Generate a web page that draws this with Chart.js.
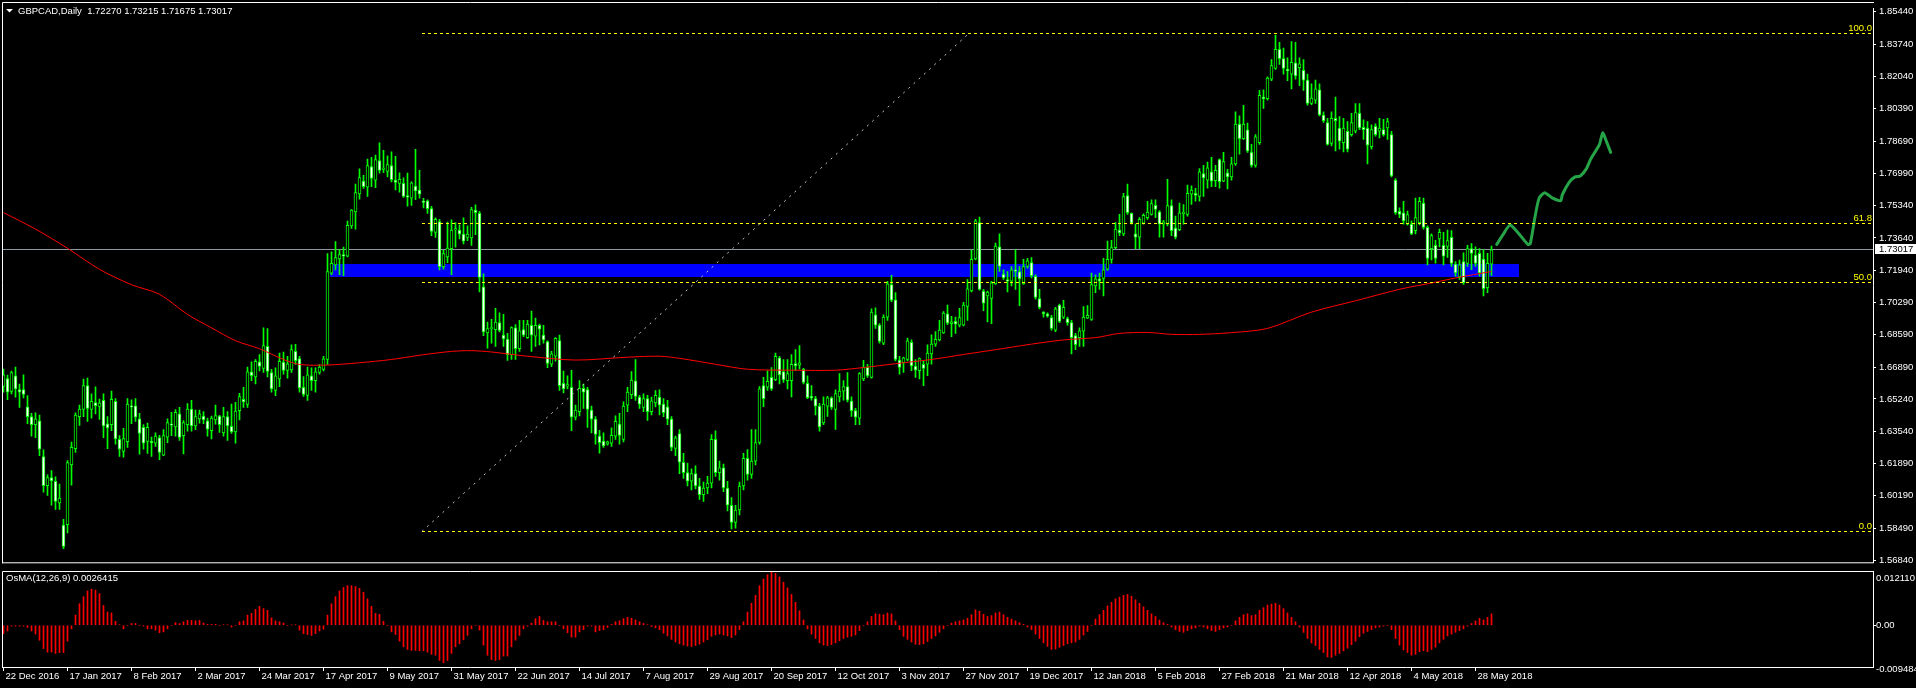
<!DOCTYPE html>
<html>
<head>
<meta charset="utf-8">
<title>GBPCAD,Daily</title>
<script src="https://cdn.jsdelivr.net/npm/chart.js@4.4.1/dist/chart.umd.min.js"></script>
<style>
  html, body { margin: 0; padding: 0; background: #000; overflow: hidden; }
  #wrap { position: relative; width: 1916px; height: 688px; }
  canvas { position: absolute; left: 0; }
  #main { top: 0; }
  #osma { top: 571px; }
</style>
</head>
<body>
<div id="wrap">
  <canvas id="main" width="1916" height="571"></canvas>
  <canvas id="osma" width="1916" height="117"></canvas>
</div>
<script>
// ---- data ----
const symbolTitle = 'GBPCAD,Daily  1.72270 1.73215 1.71675 1.73017';
const osmaTitle = 'OsMA(12,26,9) 0.0026415';
const lastPrice = 1.73017;

// daily candles, 22 Dec 2016 .. 1 Jun 2018
const openP = [
  1.6590,1.6631,1.6563,1.6645,1.6573,1.6573,1.6483,1.6432,1.6390,1.6410,
  1.6223,1.6072,1.6114,1.6095,1.5982,1.5866,1.5868,1.6180,1.6265,1.6432,
  1.6469,1.6594,1.6469,1.6505,1.6485,1.6517,1.6395,1.6390,1.6512,1.6313,
  1.6250,1.6301,1.6488,1.6488,1.6420,1.6376,1.6303,1.6303,1.6293,1.6323,
  1.6231,1.6325,1.6393,1.6378,1.6446,1.6333,1.6390,1.6471,1.6384,1.6420,
  1.6435,1.6410,1.6359,1.6415,1.6435,1.6347,1.6432,1.6381,1.6352,1.6463,
  1.6522,1.6495,1.6665,1.6639,1.6718,1.6684,1.6798,1.6662,1.6568,1.6628,
  1.6716,1.6673,1.6675,1.6772,1.6735,1.6585,1.6543,1.6645,1.6619,1.6662,
  1.6678,1.6730,1.7180,1.7223,1.7254,1.7277,1.7269,1.7427,1.7500,1.7594,
  1.7660,1.7628,1.7736,1.7665,1.7767,1.7721,1.7711,1.7741,1.7665,1.7648,
  1.7648,1.7585,1.7571,1.7634,1.7614,1.7555,1.7558,1.7517,1.7393,1.7449,
  1.7214,1.7265,1.7308,1.7405,1.7405,1.7384,1.7367,1.7364,1.7509,1.7492,
  1.7109,1.6869,1.6891,1.6886,1.6922,1.6857,1.6837,1.6755,1.6895,1.6786,
  1.6886,1.6844,1.6908,1.6852,1.6908,1.6857,1.6823,1.6705,1.6747,1.6828,
  1.6606,1.6591,1.6585,1.6429,1.6458,1.6580,1.6573,1.6466,1.6419,1.6330,
  1.6305,1.6288,1.6293,1.6330,1.6393,1.6313,1.6492,1.6546,1.6619,1.6534,
  1.6480,1.6526,1.6458,1.6504,1.6534,1.6497,1.6483,1.6419,1.6266,1.6344,
  1.6194,1.6140,1.6095,1.6135,1.6070,1.6025,1.6060,1.6085,1.6313,1.6140,
  1.6165,1.6060,1.5970,1.5880,1.5945,1.6070,1.6215,1.6130,1.6200,1.6297,
  1.6594,1.6586,1.6637,1.6625,1.6739,1.6667,1.6620,1.6620,1.6708,1.6700,
  1.6679,1.6606,1.6538,1.6526,1.6487,1.6399,1.6487,1.6530,1.6470,1.6535,
  1.6565,1.6589,1.6513,1.6463,1.6424,1.6628,1.6691,1.6637,1.6963,1.6909,
  1.6815,1.6951,1.7121,1.7041,1.6727,1.6713,1.6730,1.6820,1.6696,1.6671,
  1.6705,1.6705,1.6759,1.6810,1.6832,1.6869,1.6968,1.6917,1.6929,1.6909,
  1.6909,1.7007,1.7087,1.7254,1.7444,1.7087,1.7062,1.7048,1.7124,1.7317,
  1.7176,1.7147,1.7138,1.7198,1.7189,1.7124,1.7215,1.7235,1.7164,1.7048,
  1.6977,1.6968,1.6948,1.6883,1.7014,1.6951,1.6943,1.6922,1.6854,1.6844,
  1.6878,1.6946,1.6939,1.7113,1.7150,1.7153,1.7201,1.7252,1.7313,1.7405,
  1.7385,1.7585,1.7492,1.7385,1.7368,1.7441,1.7470,1.7487,1.7534,1.7500,
  1.7436,1.7436,1.7533,1.7415,1.7407,1.7490,1.7487,1.7592,1.7597,1.7580,
  1.7699,1.7665,1.7708,1.7662,1.7772,1.7660,1.7704,1.7682,1.7750,1.7957,
  1.7881,1.7928,1.7810,1.7742,1.7861,1.8099,1.8090,1.8192,1.8248,1.8348,
  1.8299,1.8243,1.8218,1.8277,1.8252,1.8238,1.8187,1.8065,1.8082,1.8136,
  1.8005,1.7966,1.7857,1.7988,1.7937,1.7861,1.7920,1.7903,1.7920,1.8014,
  1.7941,1.7937,1.7840,1.7946,1.7920,1.7929,1.7937,1.7903,1.7665,1.7503,
  1.7495,1.7436,1.7436,1.7402,1.7444,1.7546,1.7419,1.7308,1.7325,1.7359,
  1.7325,1.7320,1.7367,1.7228,1.7160,1.7240,1.7231,1.7308,1.7274,1.7283,
  1.7253,1.7104,1.7227
];
const highP = [
  1.6680,1.6648,1.6670,1.6690,1.6602,1.6650,1.6542,1.6449,1.6452,1.6440,
  1.6259,1.6129,1.6151,1.6118,1.6080,1.5897,1.6203,1.6299,1.6452,1.6492,
  1.6628,1.6633,1.6551,1.6588,1.6524,1.6551,1.6432,1.6565,1.6526,1.6333,
  1.6371,1.6526,1.6520,1.6526,1.6449,1.6390,1.6398,1.6325,1.6347,1.6335,
  1.6364,1.6420,1.6454,1.6469,1.6480,1.6412,1.6500,1.6517,1.6466,1.6466,
  1.6458,1.6424,1.6435,1.6492,1.6439,1.6480,1.6458,1.6497,1.6507,1.6554,
  1.6585,1.6690,1.6718,1.6730,1.6755,1.6895,1.6891,1.6679,1.6687,1.6764,
  1.6769,1.6747,1.6806,1.6809,1.6747,1.6641,1.6690,1.6687,1.6687,1.6704,
  1.6747,1.7282,1.7291,1.7345,1.7305,1.7316,1.7452,1.7512,1.7645,1.7724,
  1.7690,1.7775,1.7784,1.7796,1.7860,1.7821,1.7792,1.7813,1.7789,1.7704,
  1.7677,1.7702,1.7656,1.7826,1.7716,1.7571,1.7563,1.7529,1.7469,1.7461,
  1.7299,1.7447,1.7458,1.7444,1.7432,1.7469,1.7427,1.7524,1.7537,1.7503,
  1.7177,1.6925,1.6939,1.6997,1.6973,1.6965,1.6866,1.6900,1.6912,1.6934,
  1.6934,1.6934,1.6982,1.6946,1.6914,1.6908,1.6827,1.6772,1.6844,1.6857,
  1.6670,1.6645,1.6674,1.6492,1.6620,1.6602,1.6585,1.6487,1.6432,1.6361,
  1.6347,1.6305,1.6373,1.6436,1.6449,1.6509,1.6585,1.6667,1.6730,1.6543,
  1.6551,1.6543,1.6534,1.6568,1.6572,1.6526,1.6517,1.6432,1.6330,1.6364,
  1.6240,1.6190,1.6160,1.6175,1.6110,1.6090,1.6120,1.6338,1.6358,1.6200,
  1.6185,1.6095,1.6010,1.5970,1.6090,1.6240,1.6260,1.6364,1.6364,1.6589,
  1.6637,1.6671,1.6688,1.6764,1.6747,1.6730,1.6730,1.6756,1.6781,1.6803,
  1.6684,1.6645,1.6594,1.6538,1.6501,1.6535,1.6538,1.6535,1.6572,1.6657,
  1.6620,1.6662,1.6535,1.6475,1.6662,1.6725,1.6705,1.6994,1.6999,1.6917,
  1.6963,1.7138,1.7169,1.7079,1.6747,1.6742,1.6841,1.6832,1.6730,1.6739,
  1.6722,1.6807,1.6858,1.6875,1.6934,1.6980,1.7014,1.6955,1.6951,1.6997,
  1.7028,1.7147,1.7300,1.7461,1.7473,1.7096,1.7087,1.7138,1.7337,1.7385,
  1.7198,1.7189,1.7215,1.7303,1.7215,1.7252,1.7257,1.7262,1.7172,1.7096,
  1.6980,1.6973,1.6960,1.7002,1.7019,1.7039,1.6951,1.6934,1.6866,1.6895,
  1.7006,1.7011,1.7181,1.7172,1.7181,1.7257,1.7347,1.7351,1.7444,1.7487,
  1.7597,1.7645,1.7495,1.7436,1.7470,1.7490,1.7555,1.7563,1.7563,1.7507,
  1.7456,1.7670,1.7563,1.7478,1.7546,1.7538,1.7640,1.7635,1.7623,1.7725,
  1.7742,1.7759,1.7784,1.7742,1.7776,1.7810,1.7721,1.7784,1.8022,1.8000,
  1.8056,1.7963,1.7852,1.7903,1.8133,1.8136,1.8204,1.8294,1.8422,1.8384,
  1.8354,1.8303,1.8388,1.8384,1.8303,1.8294,1.8218,1.8167,1.8187,1.8167,
  1.8022,1.7988,1.8022,1.8099,1.7997,1.7988,1.7971,1.8014,1.8065,1.8065,
  1.7980,1.7971,1.7954,1.7959,1.7988,1.7983,1.7988,1.7920,1.7674,1.7521,
  1.7555,1.7504,1.7453,1.7572,1.7575,1.7572,1.7427,1.7385,1.7351,1.7410,
  1.7393,1.7405,1.7402,1.7240,1.7249,1.7286,1.7325,1.7334,1.7317,1.7308,
  1.7303,1.7283,1.7322
];
const lowP = [
  1.6560,1.6520,1.6551,1.6534,1.6480,1.6529,1.6395,1.6330,1.6322,1.6228,
  1.6038,1.6021,1.5970,1.5948,1.5948,1.5743,1.5825,1.6075,1.6245,1.6386,
  1.6432,1.6407,1.6424,1.6446,1.6418,1.6322,1.6265,1.6359,1.6288,1.6225,
  1.6220,1.6271,1.6395,1.6407,1.6236,1.6262,1.6240,1.6225,1.6276,1.6208,
  1.6228,1.6296,1.6333,1.6330,1.6308,1.6238,1.6356,1.6356,1.6364,1.6398,
  1.6395,1.6330,1.6316,1.6393,1.6350,1.6330,1.6308,1.6344,1.6293,1.6415,
  1.6480,1.6480,1.6619,1.6602,1.6670,1.6663,1.6639,1.6560,1.6541,1.6588,
  1.6653,1.6633,1.6662,1.6704,1.6560,1.6537,1.6517,1.6568,1.6560,1.6653,
  1.6670,1.6704,1.7172,1.7197,1.7172,1.7167,1.7265,1.7413,1.7410,1.7566,
  1.7622,1.7580,1.7631,1.7626,1.7702,1.7704,1.7682,1.7656,1.7614,1.7602,
  1.7575,1.7529,1.7534,1.7563,1.7571,1.7520,1.7492,1.7376,1.7367,1.7197,
  1.7201,1.7235,1.7172,1.7316,1.7359,1.7333,1.7350,1.7325,1.7381,1.7082,
  1.6854,1.6789,1.6815,1.6798,1.6874,1.6798,1.6725,1.6730,1.6730,1.6772,
  1.6849,1.6840,1.6772,1.6798,1.6806,1.6815,1.6687,1.6693,1.6721,1.6568,
  1.6555,1.6577,1.6359,1.6415,1.6436,1.6475,1.6376,1.6347,1.6288,1.6242,
  1.6271,1.6283,1.6276,1.6313,1.6288,1.6300,1.6458,1.6526,1.6517,1.6475,
  1.6458,1.6412,1.6441,1.6483,1.6441,1.6432,1.6390,1.6254,1.6228,1.6135,
  1.6110,1.6070,1.6050,1.6055,1.6000,1.5990,1.6030,1.6060,1.6120,1.6100,
  1.6040,1.5940,1.5846,1.5850,1.5920,1.6050,1.6100,1.6110,1.6180,1.6288,
  1.6484,1.6569,1.6569,1.6620,1.6603,1.6611,1.6577,1.6535,1.6671,1.6679,
  1.6603,1.6526,1.6518,1.6441,1.6356,1.6390,1.6433,1.6470,1.6365,1.6509,
  1.6518,1.6509,1.6433,1.6390,1.6390,1.6620,1.6637,1.6633,1.6892,1.6815,
  1.6807,1.6934,1.7031,1.6722,1.6654,1.6662,1.6722,1.6671,1.6637,1.6628,
  1.6594,1.6645,1.6705,1.6798,1.6827,1.6866,1.6912,1.6849,1.6866,1.6900,
  1.6905,1.6934,1.7082,1.7249,1.7092,1.6985,1.6926,1.6917,1.7121,1.7189,
  1.7147,1.7082,1.7113,1.7096,1.7011,1.7121,1.7206,1.7155,1.7045,1.6994,
  1.6951,1.6951,1.6883,1.6875,1.6922,1.6943,1.6909,1.6759,1.6781,1.6798,
  1.6798,1.6943,1.6934,1.7079,1.7096,1.7062,1.7194,1.7232,1.7308,1.7376,
  1.7376,1.7487,1.7436,1.7308,1.7308,1.7436,1.7461,1.7482,1.7470,1.7368,
  1.7368,1.7427,1.7376,1.7359,1.7402,1.7436,1.7478,1.7538,1.7555,1.7555,
  1.7580,1.7623,1.7631,1.7631,1.7623,1.7657,1.7619,1.7665,1.7742,1.7801,
  1.7878,1.7810,1.7733,1.7733,1.7852,1.8039,1.8082,1.8184,1.8243,1.8269,
  1.8218,1.8184,1.8141,1.8192,1.8158,1.8133,1.8056,1.8059,1.8065,1.8000,
  1.7966,1.7847,1.7844,1.7818,1.7827,1.7813,1.7813,1.7895,1.7912,1.7929,
  1.7878,1.7750,1.7827,1.7895,1.7886,1.7895,1.7878,1.7682,1.7487,1.7470,
  1.7436,1.7431,1.7381,1.7385,1.7432,1.7410,1.7223,1.7249,1.7232,1.7317,
  1.7223,1.7262,1.7215,1.7164,1.7147,1.7121,1.7215,1.7198,1.7215,1.7164,
  1.7062,1.7079,1.7168
];
const closeP = [
  1.6650,1.6560,1.6662,1.6577,1.6560,1.6548,1.6432,1.6390,1.6420,1.6262,
  1.6072,1.6114,1.6097,1.5990,1.6007,1.5755,1.6192,1.6272,1.6440,1.6471,
  1.6594,1.6475,1.6512,1.6488,1.6502,1.6384,1.6373,1.6522,1.6316,1.6262,
  1.6318,1.6497,1.6483,1.6429,1.6344,1.6293,1.6376,1.6296,1.6330,1.6245,
  1.6333,1.6401,1.6388,1.6454,1.6323,1.6401,1.6471,1.6384,1.6432,1.6446,
  1.6415,1.6367,1.6424,1.6437,1.6390,1.6432,1.6384,1.6352,1.6461,1.6537,
  1.6509,1.6665,1.6645,1.6721,1.6694,1.6803,1.6668,1.6577,1.6645,1.6721,
  1.6673,1.6707,1.6781,1.6724,1.6582,1.6548,1.6650,1.6619,1.6665,1.6690,
  1.6733,1.7189,1.7231,1.7262,1.7277,1.7269,1.7430,1.7509,1.7600,1.7679,
  1.7631,1.7741,1.7674,1.7772,1.7716,1.7728,1.7747,1.7668,1.7653,1.7670,
  1.7580,1.7577,1.7651,1.7609,1.7592,1.7549,1.7517,1.7398,1.7461,1.7214,
  1.7282,1.7311,1.7405,1.7412,1.7384,1.7347,1.7384,1.7512,1.7495,1.7158,
  1.6874,1.6891,1.6895,1.6925,1.6881,1.6837,1.6755,1.6896,1.6786,1.6880,
  1.6857,1.6914,1.6857,1.6908,1.6888,1.6832,1.6710,1.6759,1.6840,1.6594,
  1.6577,1.6599,1.6429,1.6466,1.6580,1.6560,1.6470,1.6419,1.6339,1.6296,
  1.6279,1.6300,1.6334,1.6407,1.6334,1.6487,1.6560,1.6623,1.6538,1.6497,
  1.6526,1.6458,1.6514,1.6543,1.6492,1.6453,1.6419,1.6271,1.6322,1.6194,
  1.6140,1.6095,1.6135,1.6070,1.6025,1.6060,1.6085,1.6313,1.6140,1.6165,
  1.6060,1.5970,1.5880,1.5945,1.6070,1.6215,1.6130,1.6200,1.6297,1.6577,
  1.6526,1.6616,1.6577,1.6747,1.6650,1.6623,1.6657,1.6705,1.6696,1.6713,
  1.6611,1.6531,1.6530,1.6487,1.6378,1.6497,1.6530,1.6480,1.6552,1.6565,
  1.6589,1.6518,1.6463,1.6429,1.6657,1.6691,1.6645,1.6977,1.6909,1.6824,
  1.6951,1.7124,1.7039,1.6730,1.6688,1.6739,1.6827,1.6696,1.6674,1.6735,
  1.6684,1.6764,1.6810,1.6835,1.6883,1.6972,1.6920,1.6926,1.6914,1.6948,
  1.7014,1.7099,1.7252,1.7453,1.7096,1.7023,1.7082,1.7130,1.7322,1.7215,
  1.7155,1.7138,1.7198,1.7189,1.7150,1.7215,1.7245,1.7167,1.7053,1.7002,
  1.6968,1.6956,1.6892,1.6994,1.6929,1.7002,1.6922,1.6844,1.6807,1.6880,
  1.6951,1.6960,1.7121,1.7150,1.7138,1.7198,1.7252,1.7313,1.7410,1.7390,
  1.7580,1.7495,1.7441,1.7368,1.7461,1.7482,1.7499,1.7543,1.7512,1.7436,
  1.7448,1.7533,1.7402,1.7368,1.7495,1.7499,1.7597,1.7614,1.7585,1.7708,
  1.7677,1.7730,1.7660,1.7716,1.7657,1.7762,1.7682,1.7750,1.7957,1.7881,
  1.7957,1.7818,1.7742,1.7891,1.8107,1.8090,1.8197,1.8263,1.8348,1.8299,
  1.8248,1.8235,1.8280,1.8209,1.8272,1.8187,1.8065,1.8093,1.8141,1.8005,
  1.7976,1.7852,1.7988,1.7976,1.7869,1.7937,1.7827,1.7966,1.8017,1.7937,
  1.7929,1.7847,1.7929,1.7903,1.7937,1.7903,1.7971,1.7687,1.7495,1.7486,
  1.7453,1.7486,1.7385,1.7470,1.7555,1.7419,1.7257,1.7376,1.7257,1.7393,
  1.7269,1.7350,1.7231,1.7181,1.7223,1.7130,1.7308,1.7283,1.7231,1.7181,
  1.7099,1.7231,1.7302
];

// OsMA(12,26,9) histogram, one value per candle
const osma = [
  -0.0019,-0.0013,-0.0002,-0.0002,-0.0002,-0.0002,-0.0005,-0.0013,-0.0020,-0.0034,
  -0.0053,-0.0061,-0.0061,-0.0064,-0.0062,-0.0062,-0.0036,-0.0008,0.0023,0.0049,
  0.0065,0.0078,0.0082,0.0080,0.0072,0.0045,0.0030,0.0028,0.0009,0.0001,
  -0.0008,0.0000,0.0004,0.0004,0.0000,-0.0002,-0.0008,-0.0008,-0.0011,-0.0017,
  -0.0015,-0.0008,0.0000,0.0006,0.0004,0.0008,0.0011,0.0011,0.0010,0.0011,
  0.0005,0.0002,0.0002,0.0002,0.0000,0.0001,0.0001,-0.0004,0.0000,0.0008,
  0.0010,0.0023,0.0027,0.0036,0.0043,0.0038,0.0034,0.0017,0.0010,0.0008,
  0.0005,0.0000,0.0001,0.0001,-0.0011,-0.0019,-0.0021,-0.0023,-0.0019,-0.0013,
  -0.0009,0.0023,0.0049,0.0065,0.0078,0.0086,0.0090,0.0090,0.0088,0.0084,
  0.0075,0.0060,0.0043,0.0027,0.0025,0.0009,0.0000,-0.0015,-0.0021,-0.0036,
  -0.0049,-0.0055,-0.0057,-0.0057,-0.0058,-0.0058,-0.0061,-0.0066,-0.0068,-0.0080,
  -0.0085,-0.0080,-0.0064,-0.0049,-0.0042,-0.0033,-0.0023,-0.0008,0.0000,-0.0011,
  -0.0045,-0.0068,-0.0078,-0.0080,-0.0078,-0.0070,-0.0070,-0.0049,-0.0034,-0.0023,
  -0.0008,-0.0002,0.0005,0.0015,0.0020,0.0011,0.0008,0.0008,0.0008,0.0000,
  -0.0008,-0.0017,-0.0027,-0.0027,-0.0015,-0.0010,-0.0002,-0.0002,-0.0015,-0.0012,
  -0.0010,-0.0005,0.0002,0.0008,0.0010,0.0015,0.0018,0.0016,0.0012,0.0008,
  0.0004,0.0001,-0.0003,-0.0006,-0.0010,-0.0018,-0.0024,-0.0032,-0.0038,-0.0042,
  -0.0045,-0.0047,-0.0048,-0.0046,-0.0043,-0.0038,-0.0033,-0.0025,-0.0022,-0.0020,
  -0.0022,-0.0024,-0.0028,-0.0022,-0.0010,0.0008,0.0030,0.0050,0.0068,0.0090,
  0.0105,0.0115,0.0121,0.0118,0.0110,0.0098,0.0085,0.0070,0.0052,0.0033,
  0.0012,-0.0008,-0.0020,-0.0030,-0.0040,-0.0045,-0.0046,-0.0044,-0.0040,-0.0035,
  -0.0030,-0.0027,-0.0025,-0.0022,-0.0012,0.0000,0.0008,0.0020,0.0026,0.0025,
  0.0024,0.0028,0.0026,0.0010,-0.0010,-0.0025,-0.0032,-0.0038,-0.0043,-0.0044,
  -0.0042,-0.0037,-0.0030,-0.0024,-0.0016,-0.0008,0.0000,0.0005,0.0008,0.0010,
  0.0012,0.0016,0.0024,0.0035,0.0032,0.0025,0.0020,0.0022,0.0028,0.0030,
  0.0024,0.0018,0.0014,0.0010,0.0006,0.0002,-0.0004,-0.0010,-0.0020,-0.0030,
  -0.0040,-0.0048,-0.0055,-0.0054,-0.0050,-0.0046,-0.0042,-0.0040,-0.0038,-0.0032,
  -0.0022,-0.0014,0.0000,0.0014,0.0024,0.0034,0.0044,0.0052,0.0060,0.0064,
  0.0068,0.0070,0.0066,0.0058,0.0050,0.0042,0.0034,0.0026,0.0020,0.0012,
  0.0006,0.0002,-0.0004,-0.0010,-0.0014,-0.0016,-0.0012,-0.0008,-0.0006,-0.0002,
  -0.0004,-0.0008,-0.0012,-0.0014,-0.0010,-0.0006,-0.0004,0.0000,0.0010,0.0018,
  0.0024,0.0026,0.0022,0.0024,0.0034,0.0040,0.0046,0.0048,0.0050,0.0046,
  0.0038,0.0028,0.0018,0.0008,-0.0004,-0.0016,-0.0030,-0.0040,-0.0046,-0.0055,
  -0.0062,-0.0072,-0.0073,-0.0068,-0.0064,-0.0058,-0.0052,-0.0044,-0.0036,-0.0026,
  -0.0018,-0.0014,-0.0010,-0.0006,-0.0004,-0.0002,0.0000,-0.0010,-0.0030,-0.0045,
  -0.0056,-0.0062,-0.0068,-0.0066,-0.0060,-0.0058,-0.0060,-0.0055,-0.0050,-0.0040,
  -0.0032,-0.0024,-0.0020,-0.0016,-0.0012,-0.0008,-0.0002,0.0004,0.0010,0.0016,
  0.0012,0.0018,0.0026
];

// red moving average, read at a set of bar positions
const maBars = [0, 8, 16, 24, 32, 39, 46, 52, 58, 64, 70, 74, 81, 89, 97, 105, 112, 117, 122, 131,
  143, 156, 164, 169, 178, 186, 198, 208, 215, 223, 232, 240, 248, 257, 265, 273, 279, 286, 292, 299,
  307, 316, 327, 338, 349, 358, 363, 372];
const maValues = [1.7496, 1.7410, 1.7310, 1.7200, 1.7120, 1.7070, 1.6965, 1.6895, 1.6828, 1.6786,
  1.6730, 1.6704, 1.6701, 1.6713, 1.6730, 1.6755, 1.6772, 1.6776, 1.6769, 1.6747,
  1.6727, 1.6742, 1.6747, 1.6736, 1.6705, 1.6679, 1.6674, 1.6674, 1.6688, 1.6708,
  1.6730, 1.6756, 1.6781, 1.6810, 1.6832, 1.6844, 1.6866, 1.6871, 1.6861, 1.6861,
  1.6870, 1.6892, 1.6977, 1.7036, 1.7096, 1.7133, 1.7155, 1.7189];

// hand drawn green projection
const fcBars = [373.3, 375.0, 376.7, 381.1, 381.7, 383.0, 383.9, 385.3, 387.3, 389.3,
  389.7, 391.5, 392.9, 394.2, 395.7, 396.8, 399.0, 399.8, 400.7, 401.8];
const fcValues = [1.7330, 1.7385, 1.7432, 1.7330, 1.7334, 1.7487, 1.7571, 1.7600, 1.7571, 1.7558,
  1.7589, 1.7656, 1.7682, 1.7687, 1.7724, 1.7775, 1.7852, 1.7912, 1.7869, 1.7810];

// fibonacci object (anchor bars / prices) and the blue zone
const fibAnchorBars = [104.6, 241.6];
const fibAnchorPrices = [1.5833, 1.8435];
const fibLevels = [0, 50, 61.8, 100];
const fibNames = ['0.0', '50.0', '61.8', '100.0'];
const zoneBars = [81.6, 378.9];
const zonePrices = [1.7162, 1.7228];

// axes
const priceTicks = [1.85440, 1.83740, 1.82040, 1.80390, 1.78690, 1.76990, 1.75340, 1.73640, 1.71940,
  1.70290, 1.68590, 1.66890, 1.65240, 1.63540, 1.61890, 1.60190, 1.58490, 1.56840];
const dateLabels = ['22 Dec 2016', '17 Jan 2017', '8 Feb 2017', '2 Mar 2017', '24 Mar 2017', '17 Apr 2017',
  '9 May 2017', '31 May 2017', '22 Jun 2017', '14 Jul 2017', '7 Aug 2017', '29 Aug 2017', '20 Sep 2017',
  '12 Oct 2017', '3 Nov 2017', '27 Nov 2017', '19 Dec 2017', '12 Jan 2018', '5 Feb 2018', '27 Feb 2018',
  '21 Mar 2018', '12 Apr 2018', '4 May 2018', '28 May 2018'];
const labelBars = [0, 16, 32, 48, 64, 80, 96, 112, 128, 144, 160, 176, 192, 208, 224, 240, 256, 272,
  288, 304, 320, 336, 352, 368];
const osmaAxisValues = [0.01211, 0, -0.009484];
const osmaAxisText = ['0.012110', '0.00', '-0.009484'];

// ---- chart setup ----
const FAMILY = "'Liberation Sans', Arial, sans-serif";
const FONT = { family: FAMILY, size: 9.5 };
const CSSFONT = "9.5px " + FAMILY;
const X_MIN = -0.125, X_MAX = 467.375;
const Y_MIN = 1.56723, Y_MAX = 1.85593;
const OSMA_MIN = -0.009484, OSMA_MAX = 0.01211;
const AXIS_W = 43;

Chart.defaults.font.family = FAMILY;
Chart.defaults.font.size = 9.5;
Chart.defaults.color = '#ffffff';

const bars = openP.map((_, i) => i);

const mainDecor = {
  id: 'mainDecor',
  beforeDatasetsDraw(chart) {
    const { ctx, chartArea: a, scales: { x, y } } = chart;
    ctx.save();
    const zx0 = Math.round(x.getPixelForValue(zoneBars[0]));
    const zx1 = Math.round(x.getPixelForValue(zoneBars[1]));
    const zy0 = Math.round(y.getPixelForValue(zonePrices[1]));
    const zy1 = Math.round(y.getPixelForValue(zonePrices[0]));
    ctx.fillStyle = '#0000ff';
    ctx.fillRect(zx0, zy0, zx1 - zx0, zy1 - zy0);
    const by = Math.round(y.getPixelForValue(lastPrice)) - 0.5;
    ctx.strokeStyle = '#8c97a3';
    ctx.lineWidth = 1;
    ctx.beginPath();
    ctx.moveTo(a.left, by);
    ctx.lineTo(a.right, by);
    ctx.stroke();
    ctx.restore();
  },
  afterDatasetsDraw(chart) {
    const { ctx, chartArea: a, scales: { x, y } } = chart;
    const lo = fibAnchorPrices[0], hi = fibAnchorPrices[1];
    ctx.save();
    ctx.beginPath();
    ctx.rect(a.left, a.top, a.right - a.left, a.bottom - a.top);
    ctx.clip();
    const fx = Math.round(x.getPixelForValue(fibAnchorBars[0]));
    ctx.lineWidth = 1;
    ctx.strokeStyle = '#ffff00';
    ctx.fillStyle = '#ffff00';
    ctx.font = CSSFONT;
    ctx.textAlign = 'right';
    ctx.textBaseline = 'alphabetic';
    fibLevels.forEach((lv, k) => {
      const py = Math.round(y.getPixelForValue(lo + (hi - lo) * lv / 100)) + 0.5;
      ctx.setLineDash([3, 3]);
      ctx.beginPath();
      ctx.moveTo(fx, py);
      ctx.lineTo(a.right, py);
      ctx.stroke();
      ctx.setLineDash([]);
      ctx.fillText(fibNames[k], a.right - 1, py - 2.5);
    });
    ctx.setLineDash([2, 5]);
    ctx.strokeStyle = '#c8c8c8';
    ctx.beginPath();
    ctx.moveTo(x.getPixelForValue(fibAnchorBars[0]), y.getPixelForValue(lo));
    ctx.lineTo(x.getPixelForValue(fibAnchorBars[1]), y.getPixelForValue(hi));
    ctx.stroke();
    ctx.restore();
  },
  afterDraw(chart) {
    const { ctx, chartArea: a, scales: { y } } = chart;
    ctx.save();
    ctx.strokeStyle = '#ffffff';
    ctx.lineWidth = 1;
    ctx.beginPath();
    ctx.moveTo(2.5, a.bottom + 1);
    ctx.lineTo(2.5, 2.5);
    ctx.lineTo(a.right + 1, 2.5);
    ctx.moveTo(2, a.bottom + 0.5);
    ctx.lineTo(a.right + 1, a.bottom + 0.5);
    ctx.stroke();
    // title
    ctx.fillStyle = '#ffffff';
    ctx.beginPath();
    ctx.moveTo(6, 9);
    ctx.lineTo(13, 9);
    ctx.lineTo(9.5, 12.5);
    ctx.closePath();
    ctx.fill();
    ctx.font = CSSFONT;
    ctx.textBaseline = 'middle';
    ctx.textAlign = 'left';
    ctx.fillText(symbolTitle, 18, 11);
    // last price box
    const py = Math.round(y.getPixelForValue(lastPrice)) - 1;
    ctx.fillStyle = '#ffffff';
    ctx.fillRect(a.right + 2, py - 5, 1916 - a.right - 2, 10);
    ctx.fillStyle = '#000000';
    ctx.fillText(lastPrice.toFixed(5), a.right + 6, py + 0.5);
    ctx.restore();
  }
};

new Chart(document.getElementById('main'), {
  type: 'bar',
  data: {
    datasets: [
      {
        type: 'line', order: 0,
        data: fcBars.map((b, k) => ({ x: b, y: fcValues[k] })),
        borderColor: '#26a448', borderWidth: 3, pointRadius: 0, tension: 0.2,
        borderCapStyle: 'round', borderJoinStyle: 'round'
      },
      {
        type: 'line', order: 1,
        data: maBars.map((b, k) => ({ x: b, y: maValues[k] })),
        borderColor: '#ff0000', borderWidth: 1, pointRadius: 0, tension: 0.3
      },
      {
        type: 'bar', order: 2,
        data: bars.map(i => ({ x: i, y: [openP[i], closeP[i]] })),
        backgroundColor: bars.map(i => closeP[i] >= openP[i] ? '#000000' : '#ffffff'),
        borderColor: '#00ff00', borderWidth: 1, borderSkipped: false,
        barThickness: 3, minBarLength: 1, grouped: false
      },
      {
        type: 'bar', order: 3,
        data: bars.map(i => ({ x: i, y: [lowP[i], highP[i]] })),
        backgroundColor: '#00ff00', borderWidth: 0, barThickness: 1, grouped: false
      }
    ]
  },
  options: {
    responsive: false, animation: false, devicePixelRatio: 1, events: [],
    layout: { padding: { left: 3, top: 3, right: 0, bottom: 2 } },
    plugins: { legend: { display: false }, tooltip: { enabled: false } },
    scales: {
      x: { type: 'linear', display: false, min: X_MIN, max: X_MAX, offset: false },
      y: {
        type: 'linear', position: 'right', min: Y_MIN, max: Y_MAX, beginAtZero: false,
        afterFit: s => { s.width = AXIS_W; },
        afterBuildTicks: s => { s.ticks = priceTicks.map(v => ({ value: v })); },
        ticks: { color: '#ffffff', font: FONT, padding: 3, autoSkip: false, callback: v => v.toFixed(5) },
        grid: { drawOnChartArea: false, drawTicks: true, tickLength: 3, tickColor: '#ffffff' },
        border: { display: true, color: '#ffffff', width: 1 }
      }
    }
  },
  plugins: [mainDecor]
});

const osmaDecor = {
  id: 'osmaDecor',
  afterDraw(chart) {
    const { ctx, chartArea: a, scales: { y } } = chart;
    ctx.save();
    ctx.strokeStyle = '#ffffff';
    ctx.lineWidth = 1;
    ctx.beginPath();
    ctx.moveTo(2.5, a.bottom + 1);
    ctx.lineTo(2.5, 0.5);
    ctx.lineTo(a.right + 1, 0.5);
    ctx.stroke();
    ctx.fillStyle = '#ffffff';
    ctx.font = CSSFONT;
    ctx.textAlign = 'left';
    ctx.textBaseline = 'middle';
    ctx.fillText(osmaTitle, 6, 7);
    const shift = [6, 0, 2];
    osmaAxisValues.forEach((v, k) => {
      ctx.fillText(osmaAxisText[k], a.right + 3, y.getPixelForValue(v) + shift[k]);
    });
    ctx.restore();
  }
};

new Chart(document.getElementById('osma'), {
  type: 'bar',
  data: {
    datasets: [{
      data: bars.map(i => ({ x: i, y: osma[i] })),
      backgroundColor: '#ff0000', borderWidth: 0, barThickness: 1
    }]
  },
  options: {
    responsive: false, animation: false, devicePixelRatio: 1, events: [],
    layout: { padding: { left: 3, top: 1, right: 0, bottom: 0 } },
    plugins: { legend: { display: false }, tooltip: { enabled: false } },
    scales: {
      x: {
        type: 'linear', position: 'bottom', min: X_MIN, max: X_MAX, offset: false,
        afterFit: s => { s.height = 21; },
        afterBuildTicks: s => { s.ticks = labelBars.map(v => ({ value: v })); },
        ticks: {
          color: '#ffffff', font: FONT, align: 'start', labelOffset: 2, padding: 0,
          maxRotation: 0, minRotation: 0, autoSkip: false,
          callback: (v, i) => dateLabels[i]
        },
        grid: { drawOnChartArea: false, drawTicks: true, tickLength: 4, tickColor: '#ffffff', offset: false },
        border: { display: true, color: '#ffffff' }
      },
      y: {
        type: 'linear', position: 'right', min: OSMA_MIN, max: OSMA_MAX, beginAtZero: false,
        afterFit: s => { s.width = AXIS_W; },
        afterBuildTicks: s => { s.ticks = [{ value: 0 }]; },
        ticks: { display: false },
        grid: { drawOnChartArea: false, drawTicks: true, tickLength: 3, tickColor: '#ffffff' },
        border: { display: true, color: '#ffffff' }
      }
    }
  },
  plugins: [osmaDecor]
});
</script>
</body>
</html>
